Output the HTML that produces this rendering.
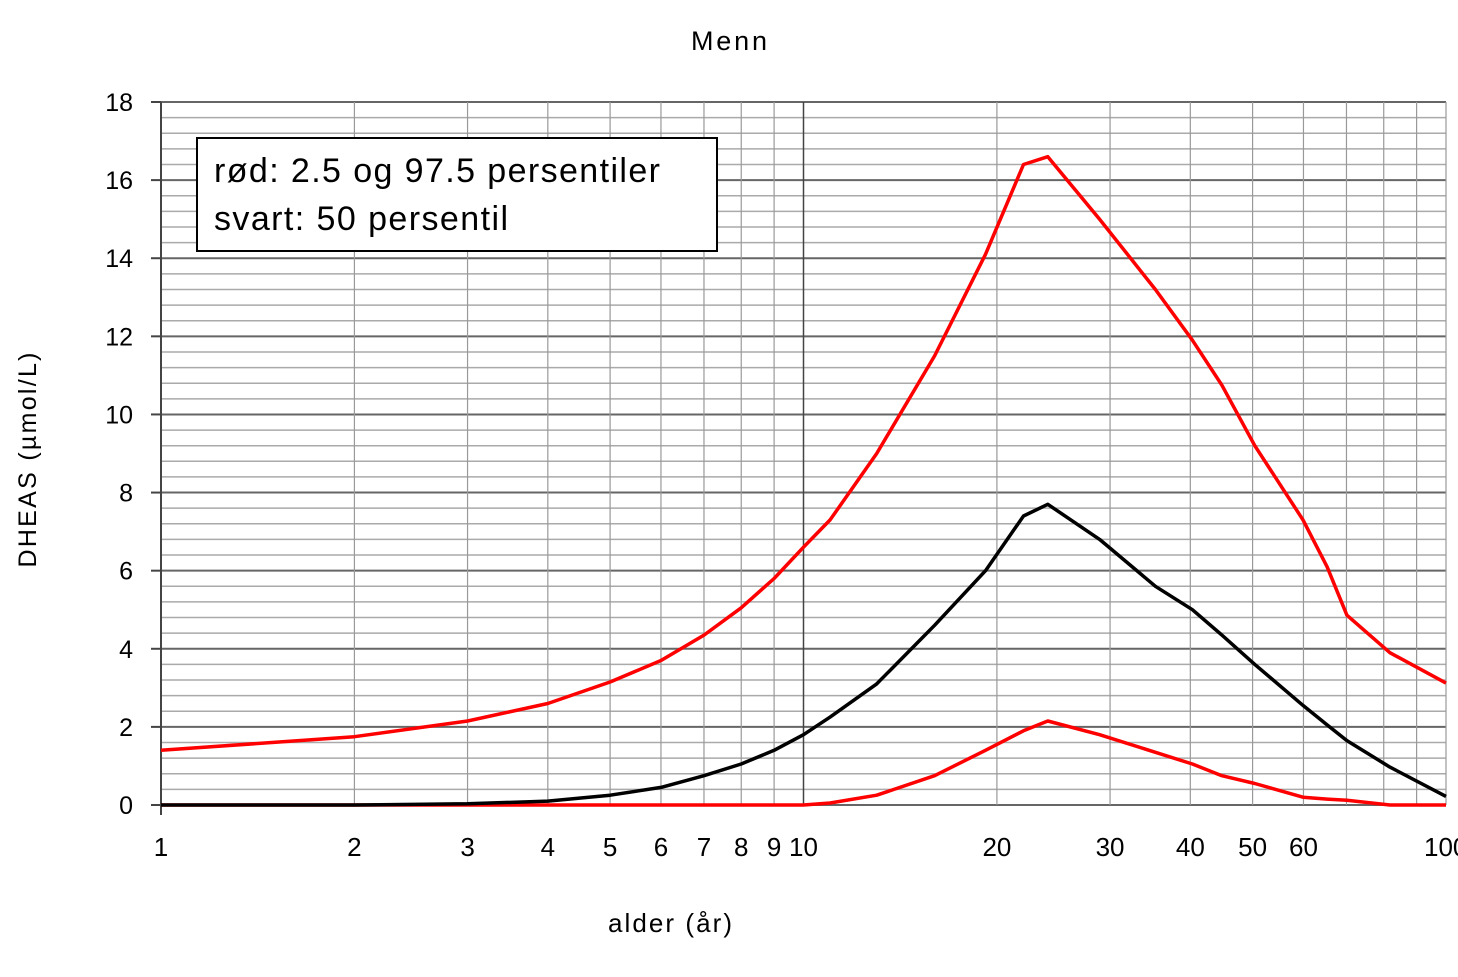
<!DOCTYPE html>
<html><head><meta charset="utf-8"><style>
html,body{margin:0;padding:0;background:#fff;}
svg text{font-family:"Liberation Sans",sans-serif;fill:#000;}
</style></head><body>
<svg id="chart" width="1458" height="972" xmlns="http://www.w3.org/2000/svg">
<text x="729" y="50" font-size="27" text-anchor="middle" textLength="76">Menn</text>
<g id="grid"></g>
<g id="axes"></g>
<g id="series"></g>
<text x="670" y="932" font-size="26" text-anchor="middle" textLength="124">alder (år)</text>
<text transform="translate(36,460) rotate(-90)" font-size="25" text-anchor="middle" textLength="215">DHEAS (µmol/L)</text>
<g>
<rect x="197" y="138" width="520" height="113" fill="#fff" stroke="#000" stroke-width="2"/>
<text x="214" y="182" font-size="34" textLength="446">rød: 2.5 og 97.5 persentiler</text>
<text x="214" y="230" font-size="34" textLength="294">svart: 50 persentil</text>
</g>
</svg>
<script>
const xTicks=[1,2,3,4,5,6,7,8,9,10,20,30,40,50,60,100];
const xGrid=[1,2,3,4,5,6,7,8,9,10,20,30,40,50,60,70,80,90,100];
const yTicks=[0,2,4,6,8,10,12,14,16,18];
const ages=[1,2,3,4,5,6,7,8,9,10,11,13,16,19.2,22,24,28.9,35.3,40.3,44.8,50.4,59.9,65.3,70.1,81.8,100];
const upper=[1.4,1.75,2.15,2.6,3.15,3.7,4.35,5.05,5.8,6.6,7.3,9.0,11.5,14.1,16.4,16.6,15.0,13.2,11.9,10.75,9.2,7.3,6.1,4.86,3.9,3.12];
const median=[0,0,0.03,0.1,0.25,0.45,0.75,1.05,1.4,1.8,2.25,3.1,4.6,6.0,7.4,7.7,6.8,5.6,5.0,4.35,3.6,2.55,2.05,1.65,0.97,0.22];
const lower=[0,0,0,0,0,0,0,0,0,0,0.05,0.25,0.75,1.4,1.9,2.15,1.8,1.35,1.05,0.75,0.55,0.2,0.15,0.12,0,0];
const NS="http://www.w3.org/2000/svg";
const X0=161,X1=1446,Y0=805,Y1=102;
const xs=a=>X0+(X1-X0)*Math.log10(a)/2;
const ys=v=>Y0-(Y0-Y1)*v/18;
function mk(t,p,a){const e=document.createElementNS(NS,t);for(const k in a)e.setAttribute(k,a[k]);p.appendChild(e);return e;}
const grid=document.getElementById('grid'),axes=document.getElementById('axes'),ser=document.getElementById('series');
for(let v=0;v<=18.001;v+=0.4){
  const major=Math.abs(v/2-Math.round(v/2))<1e-6;
  const l=mk('line',grid,{x1:X0,x2:X1,y1:ys(v),y2:ys(v),stroke:major?'#666':'#aaa','stroke-width':major?2:1.5});
  
  
}
xGrid.forEach(a=>{
  const l=mk('line',grid,{x1:xs(a),x2:xs(a),y1:Y1,y2:Y0,stroke:a===10?'#444':'#999','stroke-width':a===10?1.5:1.2});
  
  
});
let ax=mk('line',axes,{x1:X0,x2:X0,y1:Y1,y2:Y0+10,stroke:'#444','stroke-width':2});


yTicks.forEach(v=>{
  mk('line',axes,{x1:X0-10,x2:X0,y1:ys(v),y2:ys(v),stroke:'#444','stroke-width':2});
  const t=mk('text',axes,{x:133,y:ys(v)+9,'font-size':25,'text-anchor':'end'});t.textContent=v;
  
  
});
xTicks.forEach(a=>{
  const t=mk('text',axes,{x:xs(a),y:856,'font-size':26,'text-anchor':a===100?'start':'middle'});
  if(a===100)t.setAttribute('x',xs(a)-22);
  t.textContent=a;
  
  
});
function line(vals,color,name){
  const d=ages.map((a,i)=>(i?'L':'M')+xs(a).toFixed(1)+','+ys(vals[i]).toFixed(1)).join(' ');
  const p=mk('path',ser,{d:d,fill:'none',stroke:color,'stroke-width':3.5,'stroke-linejoin':'round'});
  
  
}
line(lower,'#ff0000','lower-2.5-percentile-line');
line(median,'#000','median-50-percentile-line');
line(upper,'#ff0000','upper-97.5-percentile-line');
</script>
</body></html>
